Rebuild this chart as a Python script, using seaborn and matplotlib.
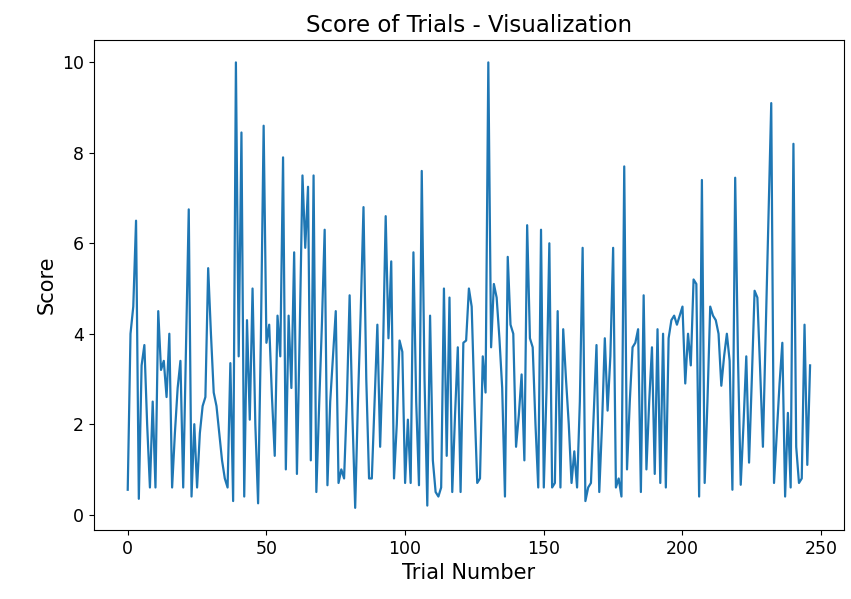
import matplotlib
matplotlib.use("Agg")
import matplotlib.pyplot as plt
import seaborn as sns
import numpy as np
import pandas as pd

# Score recorded for each trial, in trial order
scores = [
    0.55, 4.0, 4.6, 6.5, 0.35, 3.3, 3.75, 2.0, 0.6, 2.5,
    0.6, 4.5, 3.2, 3.4, 2.6, 4.0, 0.6, 1.8, 2.8, 3.4,
    0.6, 3.7, 6.75, 0.4, 2.0, 0.6, 1.8, 2.4, 2.6, 5.45,
    4.0, 2.7, 2.4, 1.8, 1.2, 0.8, 0.6, 3.35, 0.3, 10.0,
    3.5, 8.45, 0.4, 4.3, 2.1, 5.0, 2.0, 0.25, 3.9, 8.6,
    3.8, 4.2, 2.6, 1.3, 4.4, 3.5, 7.9, 1.0, 4.4, 2.8,
    5.8, 0.9, 4.0, 7.5, 5.9, 7.25, 1.2, 7.5, 0.5, 2.4,
    4.2, 6.3, 0.65, 2.5, 3.5, 4.5, 0.7, 1.0, 0.8, 2.5,
    4.85, 2.2, 0.15, 2.5, 4.5, 6.8, 3.0, 0.8, 0.8, 2.5,
    4.2, 1.5, 3.5, 6.6, 3.9, 5.6, 0.8, 2.0, 3.85, 3.6,
    0.7, 2.1, 0.7, 5.8, 2.5, 0.65, 7.6, 3.0, 0.2, 4.4,
    1.2, 0.5, 0.4, 0.6, 5.0, 1.3, 4.8, 0.5, 2.2, 3.7,
    0.5, 3.8, 3.85, 5.0, 4.6, 2.5, 0.7, 0.8, 3.5, 2.7,
    10.0, 3.7, 5.1, 4.8, 3.9, 2.8, 0.4, 5.7, 4.2, 4.0,
    1.5, 2.2, 3.1, 1.2, 6.4, 3.9, 3.7, 2.0, 0.6, 6.3,
    0.6, 2.8, 6.0, 0.6, 0.7, 4.5, 0.6, 4.1, 3.0, 2.0,
    0.7, 1.4, 0.6, 2.5, 5.9, 0.3, 0.6, 0.7, 2.2, 3.75,
    0.5, 2.0, 3.9, 2.3, 3.5, 5.9, 0.6, 0.8, 0.4, 7.7,
    1.0, 2.5, 3.7, 3.8, 4.1, 0.5, 4.85, 1.0, 2.5, 3.7,
    0.9, 4.1, 0.7, 4.0, 0.6, 3.9, 4.3, 4.4, 4.2, 4.4,
    4.6, 2.9, 4.0, 3.3, 5.2, 5.1, 0.4, 7.4, 0.7, 2.5,
    4.6, 4.4, 4.3, 4.0, 2.85, 3.5, 4.0, 3.4, 0.55, 7.45,
    3.5, 0.66, 2.0, 3.5, 1.15, 3.0, 4.95, 4.8, 3.2, 1.5,
    4.0, 6.5, 9.1, 0.7, 1.8, 2.9, 3.8, 0.4, 2.25, 0.6,
    8.2, 1.5, 0.7, 0.8, 4.2, 1.1, 3.3,
]
trials = list(range(len(scores)))

title = "Score of Trials - Visualization"
xlabel = "Trial Number"
ylabel = "Score"

df = pd.DataFrame({"trial": trials, "score": scores})

fig = plt.figure(figsize=(8.51, 5.99), dpi=100)
ax = fig.add_axes([0.110, 0.115, 0.882, 0.818])

sns.lineplot(data=df, x="trial", y="score", ax=ax, color="#1f77b4", linewidth=1.6)

ax.set_title(title, fontsize=16.5)
ax.set_xlabel(xlabel, fontsize=15)
ax.set_ylabel(ylabel, fontsize=15)
ax.tick_params(labelsize=12.5)
ax.set_xticks([0, 50, 100, 150, 200, 250])
ax.set_yticks([0, 2, 4, 6, 8, 10])

fig.savefig("out.png", dpi=100)
